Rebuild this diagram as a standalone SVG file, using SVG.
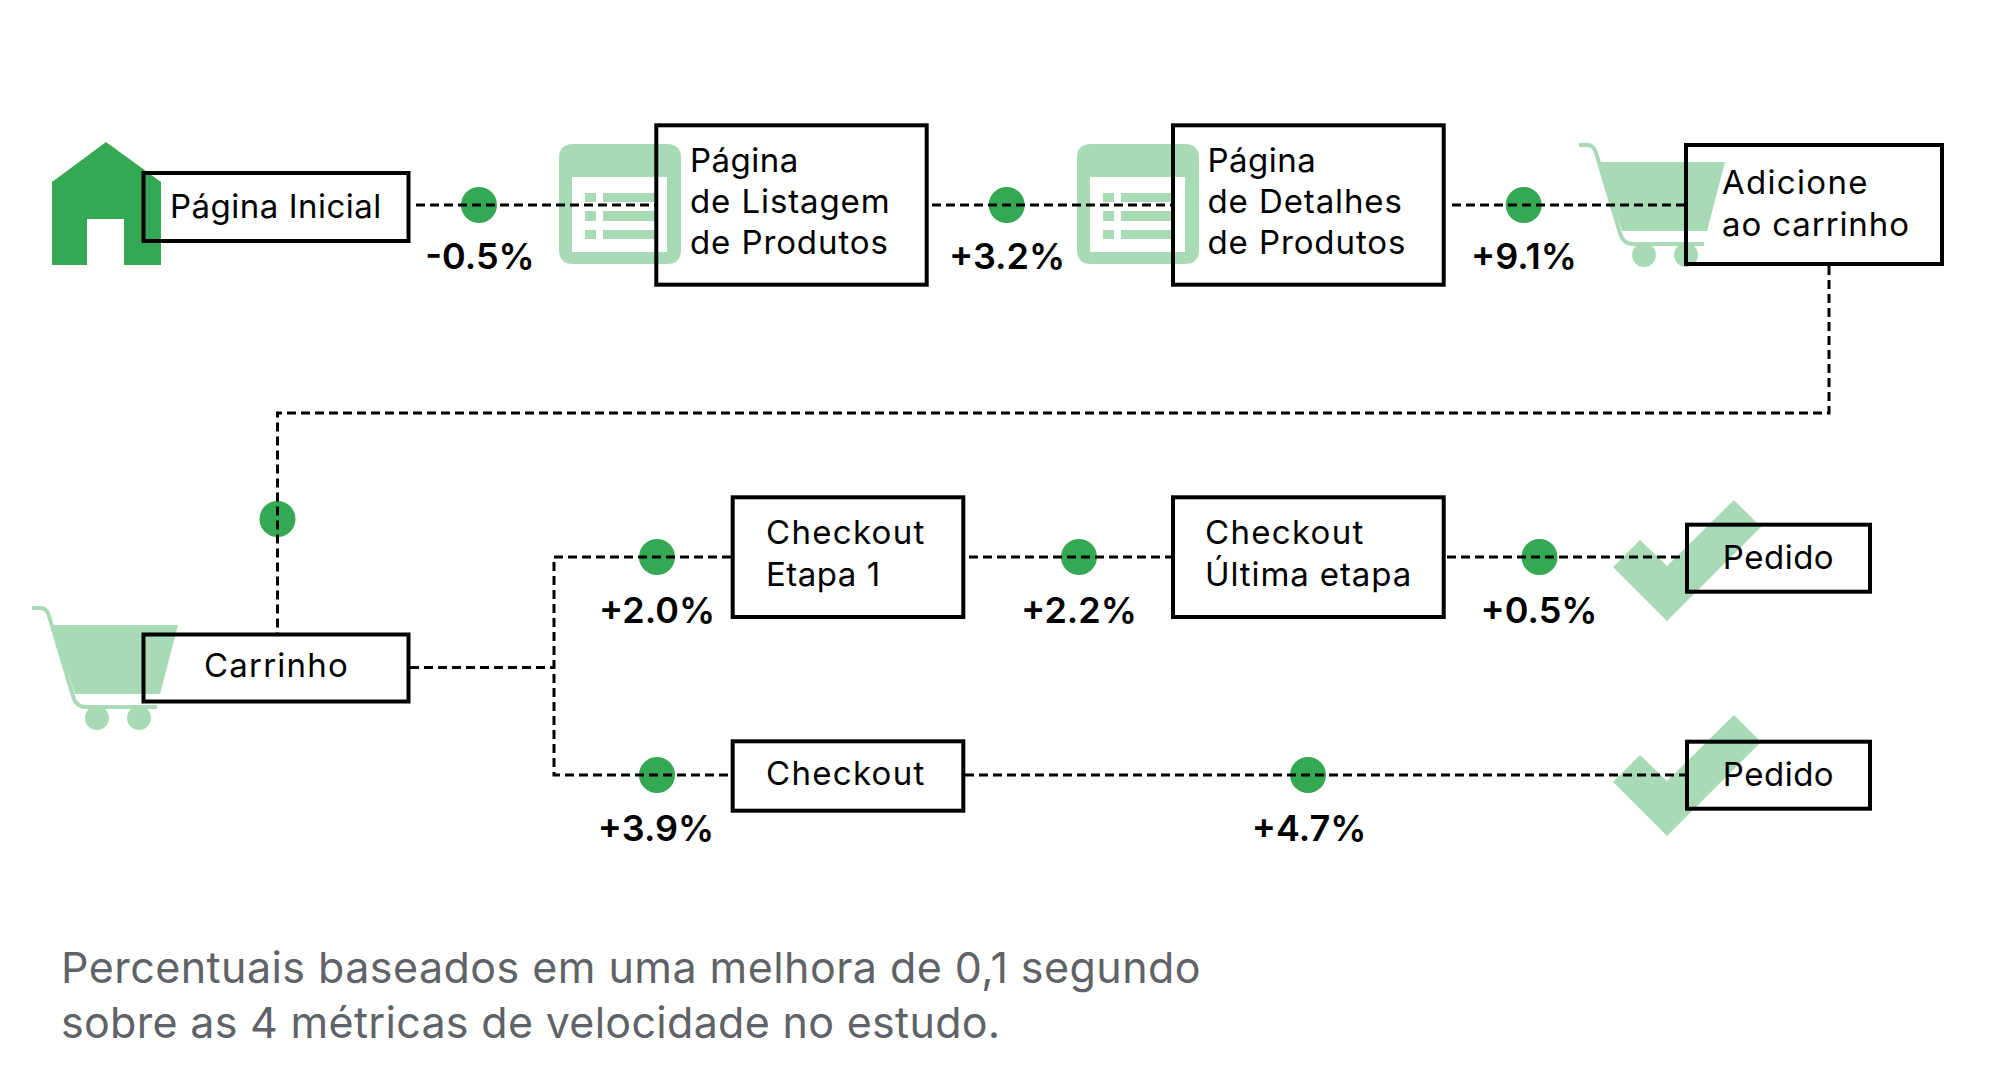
<svg xmlns="http://www.w3.org/2000/svg" width="2000" height="1092" viewBox="0 0 2000 1092">
<defs>
<style>
text{font-family:"Inter","Liberation Sans",sans-serif;font-size:33px;letter-spacing:.5px;fill:#000}
.p{font-weight:600;font-size:36px;letter-spacing:0;text-anchor:middle}
.f{font-size:43px;letter-spacing:.45px;fill:#5f6368}
.w{letter-spacing:.9px}
.k{letter-spacing:1.3px}
.m{text-anchor:middle}
.b{fill:none;stroke:#000;stroke-width:4}
.c{fill:none;stroke:#000;stroke-width:3;stroke-dasharray:9 5}
.d{fill:#34a853}
.l{fill:#a8dab5}
.r{fill:none;stroke:#a8dab5;stroke-width:4}
</style>
<g id="cart"><path class="r" d="M0 2H8Q15 2 17 10L41 90Q44 101 54 101H125"/><path class="l" d="M20 19H146L128 88H43Z"/><circle class="l" cx="65" cy="112" r="12"/><circle class="l" cx="107" cy="112" r="12"/></g>
<g id="sheet"><path class="l" fill-rule="evenodd" d="M14 0H108Q122 0 122 14V106Q122 120 108 120H14Q0 120 0 106V14Q0 0 14 0ZM13 33V108H108V33Z"/><path class="l" d="M26 49H37V58H26ZM26 67H37V77H26ZM26 86H37V95H26ZM44 49H97V58H44ZM44 67H97V77H44ZM44 86H97V95H44Z"/></g>
<path id="check" class="l" d="M1613 567L1640 540L1667 566L1734 500L1761 527L1667 621Z"/>
</defs>
<g id="icons">
<path class="d" d="M52 265V182L106 142L161 182V265H124V219H87V265Z"/>
<use href="#sheet" x="559" y="144"/>
<use href="#sheet" x="1077" y="144"/>
<use href="#cart" x="1579" y="143"/>
<use href="#cart" x="32" y="606"/>
<use href="#check"/>
<use href="#check" y="215"/>
</g>
<g id="dots">
<circle class="d" cx="479" cy="205" r="18"/><circle class="d" cx="1006.700" cy="205" r="18"/><circle class="d" cx="1523.700" cy="205" r="18"/>
<circle class="d" cx="277.500" cy="519" r="18"/>
<circle class="d" cx="657" cy="557" r="18"/><circle class="d" cx="1079" cy="557" r="18"/><circle class="d" cx="1539.500" cy="557" r="18"/>
<circle class="d" cx="657" cy="775" r="18"/><circle class="d" cx="1308" cy="775" r="18"/>
</g>
<g id="connectors">
<path class="c" d="M416 205H655"/><path class="c" d="M932 205H1172"/><path class="c" d="M1452 205H1684"/>
<path class="c" d="M1829 266V413H277.500V634"/>
<path class="c" d="M410 667.500H554"/><path class="c" d="M731 557H554V775H731"/>
<path class="c" d="M969 557H1172"/><path class="c" d="M1447 557H1685"/><path class="c" d="M965 775H1685"/>
</g>
<g id="n-home"><rect class="b" x="143.500" y="173" width="265" height="68"/><text x="170" y="218">Página Inicial</text></g>
<g id="n-list"><rect class="b" x="656.300" y="125.300" width="270.400" height="159.400"/><text x="690" y="171.500">Página</text><text class="w" x="690" y="212.500">de Listagem</text><text class="w" x="690" y="253.500">de Produtos</text></g>
<g id="n-detail"><rect class="b" x="1173" y="125.300" width="270.700" height="159.400"/><text x="1207.500" y="171.500">Página</text><text class="w" x="1207.500" y="212.500">de Detalhes</text><text class="w" x="1207.500" y="253.500">de Produtos</text></g>
<g id="n-add"><rect class="b" x="1686" y="145" width="256" height="119"/><text class="k" x="1722" y="194">Adicione</text><text class="w" x="1722" y="235.500">ao carrinho</text></g>
<g id="n-cart"><rect class="b" x="143.500" y="634.500" width="265" height="67"/><text class="m" x="276.500" y="677" style="letter-spacing:1.2px">Carrinho</text></g>
<g id="n-step1"><rect class="b" x="732.700" y="497.300" width="230.600" height="119.700"/><text class="k" x="766" y="544">Checkout</text><text x="766" y="585.500">Etapa 1</text></g>
<g id="n-last"><rect class="b" x="1173" y="497.300" width="270.700" height="119.700"/><text class="k" x="1205" y="544">Checkout</text><text class="w" x="1205" y="585.500">Última etapa</text></g>
<g id="n-checkout"><rect class="b" x="732.700" y="741.300" width="230.600" height="69.400"/><text class="k" x="766" y="785">Checkout</text></g>
<g id="n-ped1"><rect class="b" x="1687" y="524.700" width="183" height="67"/><text class="m" x="1778.500" y="568.500">Pedido</text></g>
<g id="n-ped2"><rect class="b" x="1687" y="741.700" width="183" height="67"/><text class="m" x="1778.500" y="785.500">Pedido</text></g>
<g id="labels">
<text class="p" x="480" y="269">-0.5%</text><text class="p" x="1007" y="269">+3.2%</text><text class="p" x="1524" y="269">+9.1%</text>
<text class="p" x="657" y="623">+2.0%</text><text class="p" x="1079" y="623">+2.2%</text><text class="p" x="1539" y="623">+0.5%</text>
<text class="p" x="656" y="841">+3.9%</text><text class="p" x="1309" y="841">+4.7%</text>
</g>
<g id="note"><text class="f" x="61" y="983">Percentuais baseados em uma melhora de 0,1 segundo</text><text class="f" x="61" y="1038" style="letter-spacing:.3px">sobre as 4 métricas de velocidade no estudo.</text></g>
</svg>
